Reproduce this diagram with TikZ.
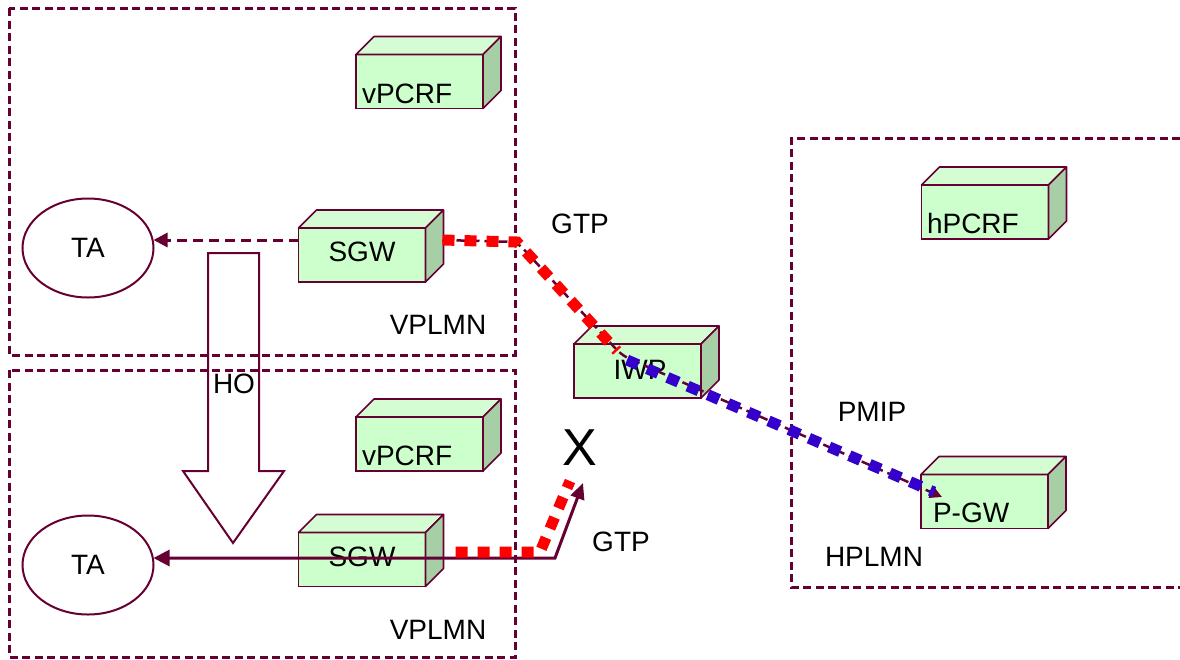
\documentclass[tikz,border=0pt]{standalone}
\usepackage{fontspec}
\setmainfont{Liberation Sans}
\usetikzlibrary{arrows.meta,calc,shapes.geometric}

\definecolor{plmnline}{HTML}{660033}
\definecolor{cubefrontfill}{HTML}{CCFFCC}
\definecolor{cubetopfill}{HTML}{D4FDD4}
\definecolor{cubesidefill}{HTML}{A6CFA6}
\definecolor{gtpred}{HTML}{FF0000}
\definecolor{pmipblue}{HTML}{3300CC}

\tikzset{
  every node/.style={font=\fontsize{28}{32}\selectfont, inner sep=0pt, outer sep=0pt},
  plmnframe/.style={draw=plmnline, line width=3pt, dash pattern=on 8pt off 4.5pt},
  cubefrontbox/.style={draw=plmnline, fill=cubefrontfill, line width=1.6pt,
    minimum width=127pt, minimum height=54pt},
  cubeface/.style={draw=plmnline, line width=1.6pt, line join=round},
  taarea/.style={draw=plmnline, ellipse, line width=2pt, minimum width=131pt, minimum height=99pt},
  hoarrow/.style={draw=plmnline, line width=2pt, line join=miter},
  bigtip/.style={-{Triangle[length=14pt,width=14pt]}},
  oldpath/.style={draw=plmnline, line width=3pt, dash pattern=on 10pt off 6pt},
  newpath/.style={draw=plmnline, line width=3pt},
  tunnel/.style={draw=plmnline, line width=2.5pt, dash pattern=on 9pt off 5pt},
  gtpdots/.style={draw=gtpred, line width=11pt, dash pattern=on 12pt off 10pt},
  pmipdots/.style={draw=pmipblue, line width=11pt, dash pattern=on 12pt off 10pt},
}

% a green 3-D box: front face node plus its top and right faces
\newcommand\netbox[3]{%
  \node[cubefrontbox] (#1) at (#2,#3) {};
  \draw[cubeface, fill=cubetopfill] (#1.north west) -- ($(#1.north west)+(18,-18)$)
     -- ($(#1.north east)+(18,-18)$) -- (#1.north east) -- cycle;
  \draw[cubeface, fill=cubesidefill] (#1.north east) -- ($(#1.north east)+(18,-18)$)
     -- ($(#1.south east)+(18,-18)$) -- (#1.south east) -- cycle;
}

\begin{document}
\begin{tikzpicture}[x=1pt, y=-1pt]
\useasboundingbox (0,0) rectangle (1180,659);

% network domains
\draw[plmnframe] (9,8) rectangle (515,355);
\draw[plmnframe] (9,370) rectangle (515,657);
\draw[plmnframe] (1180,138) -- (791,138) -- (791,587) -- (1180,587);

% handover arrow
\draw[hoarrow] (208,253) -- (259,253) -- (259,471) -- (284,471) -- (233,543)
  -- (183,471) -- (208,471) -- cycle;

% network elements
\netbox{vpcrfa}{419.5}{81.5}
\netbox{sgwa}{362}{255}
\netbox{iwp}{637.5}{371}
\netbox{vpcrfb}{419.5}{444}
\netbox{sgwb}{362}{559.5}
\netbox{hpcrf}{985}{212}
\netbox{pgw}{984.5}{501.5}

\node[taarea] (taa) at (88,248) {TA};
\node[taarea] (tab) at (88,565) {TA};

% labels
\node[anchor=base west] (lvpcrfa) at (362,103) {vPCRF};
\node[anchor=base west] (lvpcrfb) at (362,465) {vPCRF};
\node[anchor=base west] (lhpcrf) at (927,233) {hPCRF};
\node[anchor=base west] (lpgw) at (933,522) {P-GW};
\node (lsgwa) at (362,252) {SGW};
\node (lsgwb) at (362,557) {SGW};
\node (liwp) at (640,370) {IWP};
\node (lgtpa) at (580,224) {GTP};
\node (lvplmna) at (438,325) {VPLMN};
\node (lvplmnb) at (438,630) {VPLMN};
\node (lho) at (234,384) {HO};
\node (lpmip) at (872,412) {PMIP};
\node (lhplmn) at (874,557) {HPLMN};
\node (lgtpb) at (621,542) {GTP};
\node[font=\fontsize{52}{56}\selectfont] (lx) at (580,448) {X};

% waypoints of the user-plane paths
\coordinate (sgwaout) at ($(sgwa.east)+(17,-15)$);
\coordinate (gtpbend) at (517,242);
\coordinate (iwpin) at (617,351);
\coordinate (iwpout) at (627,360);
\coordinate (pgwin) at ($(pgw.west)+(21,-4.5)$);
\coordinate (pgwdots) at ($(pgw.west)+(13,-9.5)$);
\coordinate (sgwaleft) at ($(sgwa.west)+(0,-15)$);
\coordinate (oldbend) at (555,558);
\coordinate (brokenend) at (583,483);
\coordinate (sgwbout) at ($(sgwb.east)+(30,-7.5)$);
\coordinate (gtpbbend) at (540,552);
\coordinate (gtpbend2) at (570,481);

% signalling towards the tracking area before handover
\draw[oldpath, bigtip] (sgwaleft) -- (sgwaleft -| taa.east);

% tunnel SGW -> IWP -> P-GW
\draw[tunnel, rounded corners=8pt, -{Triangle[length=12pt,width=12pt]}]
  (sgwaout) -- (gtpbend) -- ($(iwpin)!0.5!(iwpout)$) -- (pgwin);
\draw[gtpdots] (sgwaout) -- (gtpbend) -- (iwpin);
\draw[pmipdots] (iwpout) -- (pgwdots);

% broken GTP path after handover
\draw[newpath, {Triangle[length=16pt,width=16pt]}-{Triangle[length=16pt,width=14pt]}]
  (oldbend -| tab.east) -- (oldbend) -- (brokenend);
\draw[gtpdots] (sgwbout) -- (gtpbbend) -- (gtpbend2);
\end{tikzpicture}
\end{document}
